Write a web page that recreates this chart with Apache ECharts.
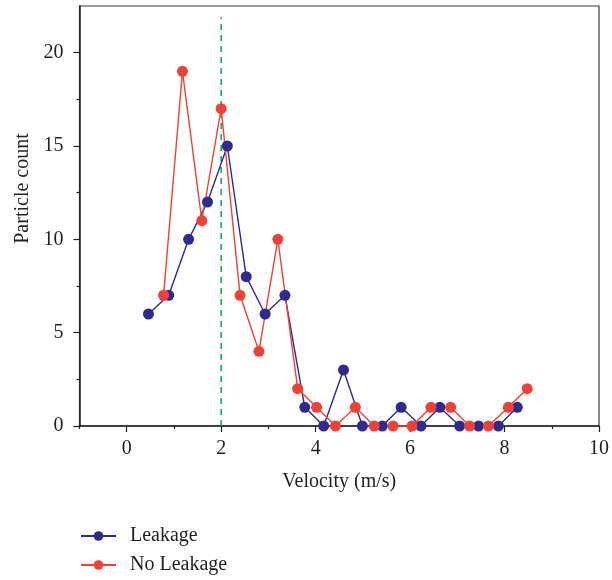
<!DOCTYPE html>
<html>
<head>
<meta charset="utf-8">
<script src="https://cdn.jsdelivr.net/npm/echarts@6/dist/echarts.min.js"></script>
<style>html,body{margin:0;padding:0;background:#fff;}#c{width:612px;height:580px;}</style>
</head>
<body>
<div id="c"></div>
<script>
// ---- data ----
const leakageX = [0.46, 0.89, 1.31, 1.71, 2.13, 2.53, 2.93, 3.35, 3.77, 4.17, 4.59, 4.99, 5.41, 5.81, 6.23, 6.63, 7.05, 7.45, 7.87, 8.27];
const leakageY = [6, 7, 10, 12, 15, 8, 6, 7, 1, 0, 3, 0, 0, 1, 0, 1, 0, 0, 0, 1];
const noLeakageX = [0.78, 1.18, 1.59, 2.0, 2.4, 2.8, 3.2, 3.62, 4.02, 4.42, 4.84, 5.24, 5.64, 6.04, 6.44, 6.86, 7.26, 7.66, 8.08, 8.48];
const noLeakageY = [7, 19, 11, 17, 7, 4, 10, 2, 1, 0, 1, 0, 0, 0, 1, 1, 0, 0, 1, 2];
const refLineX = 2;
const refLineSpan = [0, 21.9];
const xMajorTicks = [0, 2, 4, 6, 8, 10];
const xMinorTicks = [-1, 1, 3, 5, 7, 9];
const yMajorTicks = [0, 5, 10, 15, 20];
const yMinorTicks = [2.5, 7.5, 12.5, 17.5];
const seriesNames = ['Leakage', 'No Leakage'];

const FONT = 'Liberation Serif';
const AX = '#231f20';
const TXT = '#231f20';
const toPts = (xs, ys) => xs.map((x, i) => [x, ys[i]]);

const chart = echarts.init(document.getElementById('c'), null, {renderer: 'canvas'});
chart.setOption({
  animation: false,
  backgroundColor: '#fff',
  textStyle: {fontFamily: FONT},
  grid: {left: 79.5, right: 11, top: 6, bottom: 154, show: true, borderColor: '#3a3a3a', borderWidth: 1.2, containLabel: false},
  legend: {
    data: seriesNames, orient: 'vertical', left: 80, top: 526, padding: 0,
    itemWidth: 35, itemHeight: 12, itemGap: 9,
    textStyle: {fontFamily: FONT, fontSize: 20, lineHeight: 20, color: TXT, padding: [0, 0, 0, 9]}
  },
  xAxis: [{
    type: 'value', min: -1, max: 10,
    name: 'Velocity (m/s)', nameLocation: 'middle', nameGap: 46,
    nameTextStyle: {fontFamily: FONT, fontSize: 20, color: TXT},
    axisLine: {show: true, onZero: false, lineStyle: {color: AX, width: 1.5}},
    axisTick: {show: true, length: 6, inside: false, customValues: xMajorTicks, lineStyle: {color: AX, width: 1.2}},
    axisLabel: {customValues: xMajorTicks, margin: 13, fontFamily: FONT, fontSize: 20, color: TXT},
    splitLine: {show: false}
  }, {
    type: 'value', min: -1, max: 10, position: 'bottom',
    axisLine: {show: false, onZero: false},
    axisTick: {show: true, length: 3, customValues: xMinorTicks, lineStyle: {color: AX, width: 1.2}},
    axisLabel: {show: false}, splitLine: {show: false}
  }],
  yAxis: [{
    type: 'value', min: 0, max: 22.5,
    name: 'Particle count', nameLocation: 'middle', nameGap: 42, nameRotate: 90,
    nameTextStyle: {fontFamily: FONT, fontSize: 20, color: TXT, padding: [0, 0, 0, 55]},
    axisLine: {show: true, onZero: false, lineStyle: {color: AX, width: 1.5}},
    axisTick: {show: true, length: 6, customValues: yMajorTicks, lineStyle: {color: AX, width: 1.2}},
    axisLabel: {customValues: yMajorTicks, margin: 16, fontFamily: FONT, fontSize: 20, color: TXT},
    splitLine: {show: false}
  }, {
    type: 'value', min: 0, max: 22.5, position: 'left', offset: 0,
    axisLine: {show: false, onZero: false},
    axisTick: {show: true, length: 3, customValues: yMinorTicks, lineStyle: {color: AX, width: 1.2}},
    axisLabel: {show: false}, splitLine: {show: false}
  }],
  series: [{
    name: 'ref', type: 'line', xAxisIndex: 0, yAxisIndex: 0,
    data: refLineSpan.map(v => [refLineX, v]),
    symbol: 'none', silent: true,
    lineStyle: {color: '#00a651', width: 1.5, type: [6, 5]}
  }, {
    name: seriesNames[0], type: 'line', xAxisIndex: 0, yAxisIndex: 0,
    data: toPts(leakageX, leakageY),
    symbol: 'circle', symbolSize: 11,
    itemStyle: {color: '#2e2a8e'},
    lineStyle: {color: '#2e2a8e', width: 1.4}
  }, {
    name: seriesNames[1], type: 'line', xAxisIndex: 0, yAxisIndex: 0,
    data: toPts(noLeakageX, noLeakageY),
    symbol: 'circle', symbolSize: 11,
    itemStyle: {color: '#ef4136'},
    lineStyle: {color: '#ef4136', width: 1.4}
  }]
});
</script>
</body>
</html>
